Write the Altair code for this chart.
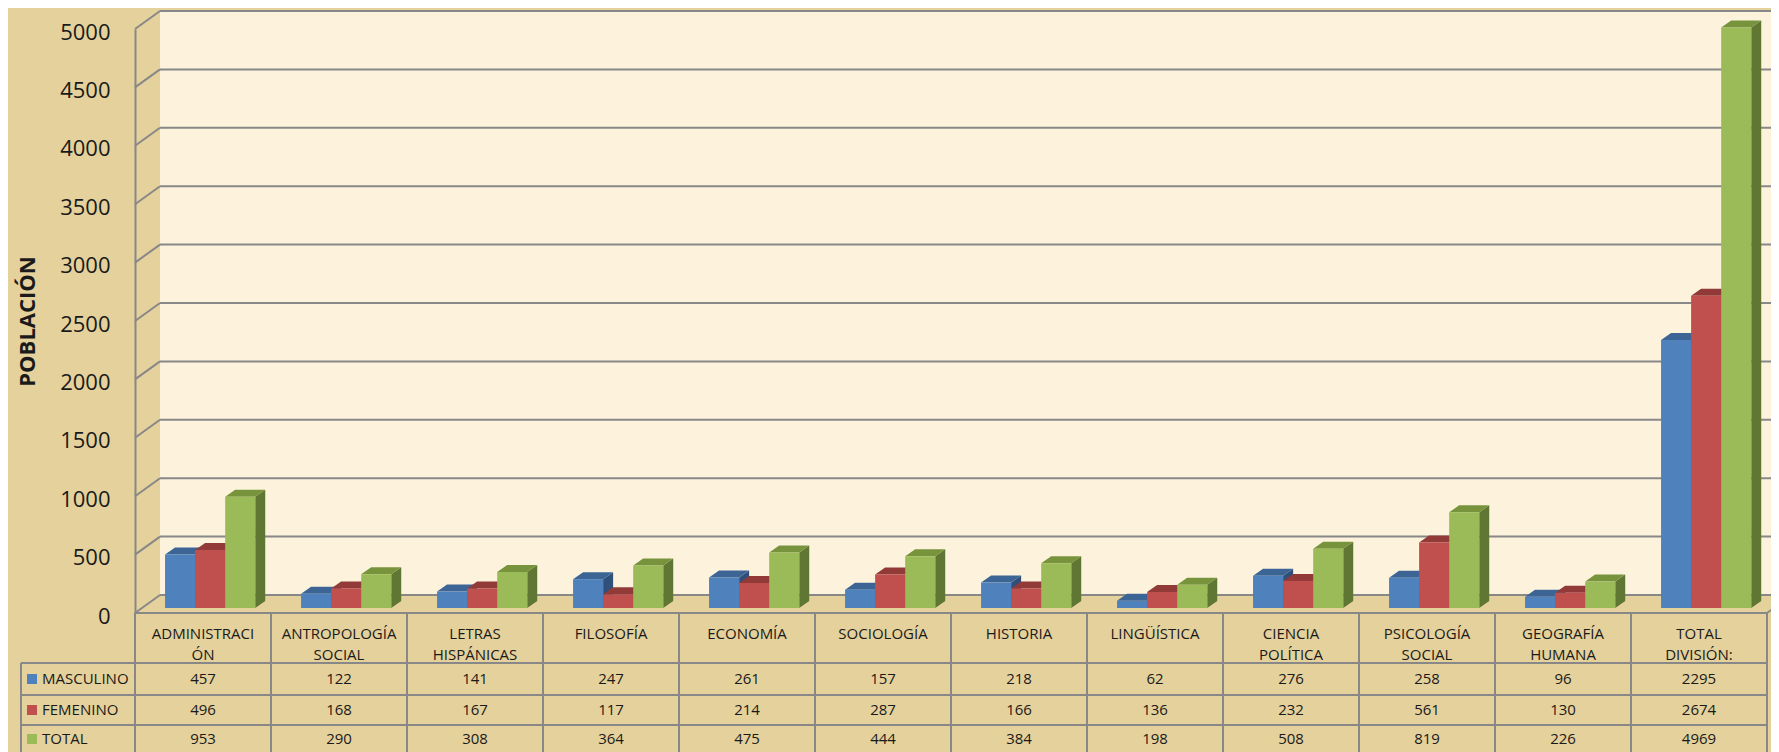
import altair as alt
import pandas as pd

# ---------------- data ----------------
label_line1 = ["ADMINISTRACI", "ANTROPOLOGÍA", "LETRAS", "FILOSOFÍA", "ECONOMÍA",
               "SOCIOLOGÍA", "HISTORIA", "LINGÜÍSTICA", "CIENCIA", "PSICOLOGÍA",
               "GEOGRAFÍA", "TOTAL"]
label_line2 = ["ÓN", "SOCIAL", "HISPÁNICAS", "", "", "", "", "", "POLÍTICA", "SOCIAL",
               "HUMANA", "DIVISIÓN:"]
series_names = ["MASCULINO", "FEMENINO", "TOTAL"]
masculino = [457, 122, 141, 247, 261, 157, 218, 62, 276, 258, 96, 2295]
femenino = [496, 168, 167, 117, 214, 287, 166, 136, 232, 561, 130, 2674]
total = [953, 290, 308, 364, 475, 444, 384, 198, 508, 819, 226, 4969]
y_ticks = [0, 500, 1000, 1500, 2000, 2500, 3000, 3500, 4000, 4500, 5000]

# ---------------- styles ----------------
FRONT = {"MASCULINO": "#4F81BD", "FEMENINO": "#C0504D", "TOTAL": "#9BBB59"}
TOP = {"MASCULINO": "#3C6596", "FEMENINO": "#913A38", "TOTAL": "#77933C"}
SIDE = {"MASCULINO": "#2F507A", "FEMENINO": "#7A2F2D", "TOTAL": "#5F7732"}
BG = "#E5D19B"
WALL = "#FDF3DC"
GRID = "#888888"
TXT = "#1A1A1A"
FONT = "Open Sans"

W, H = 1632, 584
NCAT = len(label_line1)
BAR_W = 0.221      # in category units
BAR_START = 0.221
DX = 10 / (W / NCAT)   # bar depth in category units
DV = 7 / (H / 5000)    # bar depth in value units
WALL_DX, WALL_DY = 25, -18
BAR_DY = -5

xs = alt.Scale(domain=[0, NCAT], nice=False, zero=False)
ys = alt.Scale(domain=[0, 5000], nice=False, zero=False)
YAX = alt.Axis(
    title="POBLACIÓN", values=y_ticks, format="d", grid=False, ticks=False, domain=True,
    domainColor=GRID, domainWidth=2, labelFont=FONT, labelFontSize=22,
    labelColor=TXT, labelPadding=25, labelOffset=3, titleFont=FONT,
    titleFontSize=22, titleFontWeight="bold", titleColor=TXT, titlePadding=20)


def Y(field):
    return alt.Y(field, scale=ys, axis=YAX, title="POBLACIÓN")


def X(field):
    return alt.X(field, scale=xs, axis=None)


# ---------------- build bar tables ----------------
values = [masculino, femenino, total]
front_rows, side_rows, top_rows = [], [], []
for j, (s, vals) in enumerate(zip(series_names, values)):
    for i, v in enumerate(vals):
        bid = f"{s}-{i}"
        xl = i + BAR_START + j * BAR_W
        xr = xl + BAR_W
        front_rows.append({"id": bid, "x": xl, "x2": xr, "v": v, "b": 0, "c": FRONT[s]})
        side_rows += [
            {"id": bid, "x": xr, "y": v, "y2": 0, "c": SIDE[s]},
            {"id": bid, "x": xr + DX, "y": v + DV, "y2": DV, "c": SIDE[s]},
        ]
        top_rows += [
            {"id": bid, "x": xl, "y": v, "y2": v, "c": TOP[s]},
            {"id": bid, "x": xl + DX, "y": v + DV, "y2": v, "c": TOP[s]},
            {"id": bid, "x": xr, "y": v + DV, "y2": v, "c": TOP[s]},
            {"id": bid, "x": xr + DX, "y": v + DV, "y2": v + DV, "c": TOP[s]},
        ]
front_df = pd.DataFrame(front_rows)
side_df = pd.DataFrame(side_rows)
top_df = pd.DataFrame(top_rows)
tick_df = pd.DataFrame({"v": y_ticks})
one = pd.DataFrame({"a": [0]})

# ---------------- walls and grid ----------------
wall = alt.Chart(one).mark_rect(
    color=WALL, xOffset=WALL_DX, x2Offset=WALL_DX + 20, yOffset=WALL_DY, y2Offset=WALL_DY
).encode(x=X("x0:Q"), x2="x1:Q", y=Y("y0:Q"), y2="y1:Q"
).transform_calculate(x0="0", x1=str(NCAT), y0="5000", y1="0")

grid = alt.Chart(tick_df).mark_rule(
    color=GRID, strokeWidth=2, xOffset=WALL_DX, x2Offset=WALL_DX + 20, yOffset=WALL_DY
).encode(x=X("x0:Q"), x2="x1:Q", y=Y("v:Q")
).transform_calculate(x0="0", x1=str(NCAT))

diag = alt.Chart(tick_df).mark_rule(
    color=GRID, strokeWidth=2, x2Offset=WALL_DX, y2Offset=WALL_DY
).encode(x=X("x0:Q"), x2="x0:Q", y=Y("v:Q"), y2="v:Q"
).transform_calculate(x0="0")

diag_right = alt.Chart(one).mark_rule(
    color=GRID, strokeWidth=2, x2Offset=WALL_DX, y2Offset=WALL_DY
).encode(x=X("x0:Q"), x2="x0:Q", y=Y("y0:Q"), y2="y0:Q"
).transform_calculate(x0=str(NCAT), y0="0")

# ---------------- bars ----------------
sides = alt.Chart(side_df).mark_area(yOffset=BAR_DY, y2Offset=BAR_DY).encode(
    x=X("x:Q"), y=Y("y:Q"), y2="y2:Q",
    color=alt.Color("c:N", scale=None), detail="id:N")
tops = alt.Chart(top_df).mark_area(yOffset=BAR_DY, y2Offset=BAR_DY).encode(
    x=X("x:Q"), y=Y("y:Q"), y2="y2:Q",
    color=alt.Color("c:N", scale=None), detail="id:N")
fronts = alt.Chart(front_df).mark_rect(yOffset=BAR_DY, y2Offset=BAR_DY).encode(
    x=X("x:Q"), x2="x2:Q", y=Y("v:Q"), y2="b:Q", color=alt.Color("c:N", scale=None))

# ---------------- data table ----------------
T_TOP, T_HDR, T_R1, T_R2, T_BOT = 584, 634, 666, 696, 730
LEG_X = -114
row_y = [650, 681, 710]

table_layers = []
table_layers.append(alt.Chart(one).mark_rule(color=GRID, strokeWidth=2).encode(
    x=alt.value(0), x2=alt.value(W), y=alt.value(T_TOP)))
for py in [T_HDR, T_R1, T_R2]:
    table_layers.append(alt.Chart(one).mark_rule(color=GRID, strokeWidth=2).encode(
        x=alt.value(LEG_X), x2=alt.value(W), y=alt.value(py)))
vlines = pd.DataFrame({"k": list(range(NCAT + 1))})
table_layers.append(alt.Chart(vlines).mark_rule(color=GRID, strokeWidth=2).encode(
    x=X("k:Q"), y=alt.value(T_TOP), y2=alt.value(T_BOT)))
table_layers.append(alt.Chart(one).mark_rule(color=GRID, strokeWidth=2).encode(
    x=alt.value(LEG_X), y=alt.value(T_HDR), y2=alt.value(T_BOT)))

cat_df = pd.DataFrame({"xc": [i + 0.5 for i in range(NCAT)], "l1": label_line1, "l2": label_line2})
table_layers.append(alt.Chart(cat_df).mark_text(font=FONT, fontSize=15, color=TXT, baseline="middle").encode(
    x=X("xc:Q"), y=alt.value(605), text="l1:N"))
table_layers.append(alt.Chart(cat_df).mark_text(font=FONT, fontSize=15, color=TXT, baseline="middle").encode(
    x=X("xc:Q"), y=alt.value(626), text="l2:N"))

for j, (s, vals) in enumerate(zip(series_names, values)):
    row_df = pd.DataFrame({"xc": [i + 0.5 for i in range(NCAT)], "t": [str(v) for v in vals]})
    table_layers.append(alt.Chart(row_df).mark_text(font=FONT, fontSize=15, color=TXT, baseline="middle").encode(
        x=X("xc:Q"), y=alt.value(row_y[j]), text="t:N"))
    table_layers.append(alt.Chart(one).mark_square(size=100, opacity=1, filled=True, color=FRONT[s]).encode(
        x=alt.value(LEG_X + 11), y=alt.value(row_y[j])))
    table_layers.append(alt.Chart(one).mark_text(font=FONT, fontSize=15, color=TXT, align="left",
                                                 baseline="middle", text=s).encode(
        x=alt.value(LEG_X + 21), y=alt.value(row_y[j])))

chart = alt.layer(
    wall, grid, diag, diag_right, sides, tops, fronts, *table_layers
).properties(
    width=W, height=H,
    padding={"left": 127, "top": 21, "right": 4, "bottom": 139},
    autosize=alt.AutoSizeParams(type="none"),
    background=BG,
).configure_view(stroke=None)

chart.save("out.html", embed_options={"renderer": "svg", "actions": False})
